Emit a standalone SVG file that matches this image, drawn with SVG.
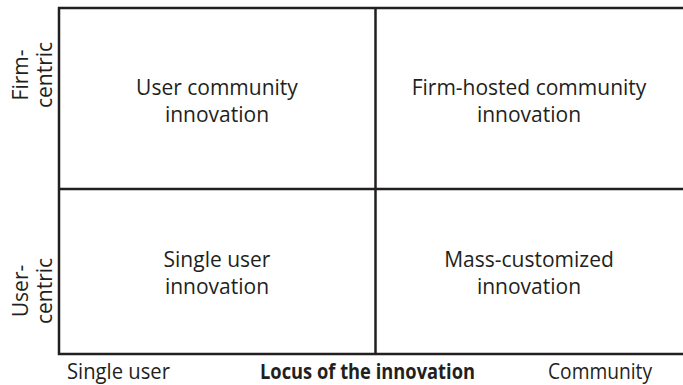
<svg xmlns="http://www.w3.org/2000/svg" width="683" height="385" viewBox="0 0 683 385">
<style>
  .t { font-family: "Open Sans", "Liberation Sans", sans-serif; font-size: 21px; fill: #231f20; }
  .c { text-anchor: middle; }
  .b { font-weight: bold; }
  .ln { stroke: #231f20; stroke-width: 2.5; fill: none; }
</style>
<rect width="683" height="385" fill="#ffffff"/>
<g id="connectors">
  <path class="ln" d="M683 8 H59 V354 H683"/>
  <line class="ln" x1="375.5" y1="8" x2="375.5" y2="354"/>
  <line class="ln" x1="59" y1="189" x2="683" y2="189"/>
</g>
<g id="cell-user-community">
  <text class="t c" x="217" y="95">User community</text>
  <text class="t c" x="217" y="122">innovation</text>
</g>
<g id="cell-firm-hosted">
  <text class="t c" x="529" y="95">Firm-hosted community</text>
  <text class="t c" x="529" y="122">innovation</text>
</g>
<g id="cell-single-user">
  <text class="t c" x="217" y="267">Single user</text>
  <text class="t c" x="217" y="294">innovation</text>
</g>
<g id="cell-mass-customized">
  <text class="t c" x="529" y="267">Mass-customized</text>
  <text class="t c" x="529" y="294">innovation</text>
</g>
<g id="axis-y-firm">
  <text class="t c" transform="translate(28 75) rotate(-90)">Firm-</text>
  <text class="t c" transform="translate(52 75) rotate(-90)">centric</text>
</g>
<g id="axis-y-user">
  <text class="t c" transform="translate(28 291) rotate(-90)">User-</text>
  <text class="t c" transform="translate(52 291) rotate(-90)">centric</text>
</g>
<g id="axis-x">
  <text class="t" x="67" y="379" textLength="103" lengthAdjust="spacingAndGlyphs">Single user</text>
  <text class="t b" x="260" y="379" textLength="215" lengthAdjust="spacingAndGlyphs">Locus of the innovation</text>
  <text class="t" x="548" y="379" textLength="104" lengthAdjust="spacingAndGlyphs">Community</text>
</g>
</svg>
